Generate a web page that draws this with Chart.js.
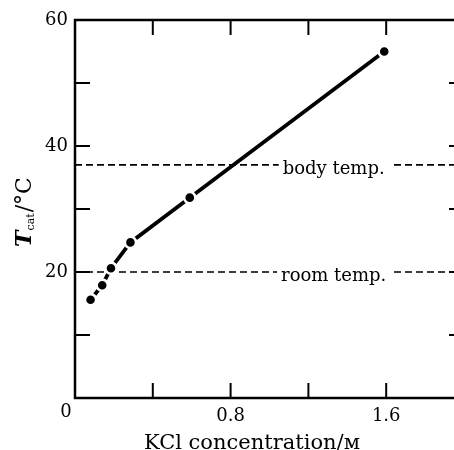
<!DOCTYPE html>
<html>
<head>
<meta charset="utf-8">
<style>
  html, body { margin: 0; padding: 0; background: #fff; overflow: hidden; width: 454px; height: 450px; }
  canvas { display: block; }
</style>
<script src="https://cdn.jsdelivr.net/npm/chart.js@4.4.1/dist/chart.umd.min.js"></script>
</head>
<body>
<canvas id="c" width="480" height="450"></canvas>
<script>
// KCl concentration (M) and catalytic temperature T_cat (°C)
const kclConc = [0.08, 0.14, 0.185, 0.285, 0.59, 1.59];
const tCat = [15.6, 17.9, 20.6, 24.7, 31.8, 55.0];

// horizontal reference temperatures
const refLevels = [37, 20];
const refLabels = ['body temp.', 'room temp.'];

// labelled ticks and axis titles
const xTickLabels = ['0.8', '1.6'];
const yTickLabels = ['20', '40', '60'];
const cornerLabel = '0';
const xTitle = 'KCl concentration/ᴍ';

const SERIF = '"DejaVu Serif", "Liberation Serif", serif';
const INK = '#000';

Chart.defaults.font.family = SERIF;
Chart.defaults.font.size = 18;
Chart.defaults.color = INK;

const points = kclConc.map((x, i) => ({ x, y: tCat[i] }));

const refDatasets = refLevels.map((lvl, i) => ({
  label: refLabels[i],
  data: [{ x: 0, y: lvl }, { x: 2, y: lvl }],
  showLine: true,
  borderColor: INK,
  borderWidth: 1.6,
  borderDash: [7, 4],
  pointRadius: 0,
  order: 2
}));

// Frame round the plot area with inward tick marks on all four sides,
// the shared "0" at the origin, the reference labels and both titles.
const decorPlugin = {
  id: 'decor',
  beforeDatasetsDraw(chart) {
    const { ctx, chartArea: a, scales: { x, y } } = chart;
    ctx.save();
    ctx.strokeStyle = INK;
    ctx.lineWidth = 2.5;
    ctx.strokeRect(a.left, a.top, a.right - a.left, a.bottom - a.top);
    ctx.lineWidth = 2;
    const len = 15;
    ctx.beginPath();
    x.ticks.forEach(t => {
      const px = x.getPixelForValue(t.value);
      if (px <= a.left + 1 || px >= a.right - 1) return;
      ctx.moveTo(px, a.bottom); ctx.lineTo(px, a.bottom - len);
      ctx.moveTo(px, a.top); ctx.lineTo(px, a.top + len);
    });
    y.ticks.forEach(t => {
      const py = y.getPixelForValue(t.value);
      if (py <= a.top + 1 || py >= a.bottom - 1) return;
      ctx.moveTo(a.left, py); ctx.lineTo(a.left + len, py);
      ctx.moveTo(a.right, py); ctx.lineTo(a.right - len, py);
    });
    ctx.stroke();
    ctx.restore();
  },
  afterDatasetsDraw(chart) {
    const { ctx, scales: { x, y } } = chart;
    ctx.save();
    // reference labels sitting on a white patch over the dashed lines
    ctx.font = '18px ' + SERIF;
    ctx.textAlign = 'center';
    ctx.textBaseline = 'alphabetic';
    const cx = x.getPixelForValue(1.33);
    refLevels.forEach((lvl, i) => {
      const py = y.getPixelForValue(lvl);
      const w = ctx.measureText(refLabels[i]).width;
      ctx.fillStyle = '#fff';
      ctx.fillRect(cx - w / 2 - 4, py - 4, w + 11, 8);
      ctx.fillStyle = INK;
      ctx.fillText(refLabels[i], cx, py + 9);
    });
    ctx.restore();
  },
  afterDraw(chart) {
    const { ctx, scales: { x, y } } = chart;
    ctx.save();
    ctx.fillStyle = INK;
    // origin label shared by both axes
    ctx.font = '18px ' + SERIF;
    ctx.textAlign = 'center';
    ctx.textBaseline = 'middle';
    ctx.fillText(cornerLabel, x.getPixelForValue(0) - 9, y.getPixelForValue(0) + 14);

    // x title
    ctx.font = '21px ' + SERIF;
    ctx.textBaseline = 'alphabetic';
    ctx.fillText(xTitle, x.getPixelForValue(0.91), 449);

    // rotated y title: T (italic) with subscript "cat", then /°C
    const main = '22px ' + SERIF;
    const tFont = 'italic bold 22px ' + SERIF;
    const subFont = '11px ' + SERIF;
    ctx.font = tFont; const wT = ctx.measureText('T').width;
    ctx.font = subFont; const wS = ctx.measureText('cat').width;
    ctx.font = main; const wR = ctx.measureText('/°C').width;
    const W = wT + wS + 1 + wR;
    ctx.translate(31, 212);
    ctx.rotate(-Math.PI / 2);
    ctx.textAlign = 'left';
    let px = -W / 2;
    ctx.font = tFont; ctx.fillText('T', px, 0); px += wT;
    ctx.font = subFont; ctx.fillText('cat', px, 3); px += wS + 1;
    ctx.font = main; ctx.fillText('/°C', px, 0);
    ctx.restore();
  }
};

new Chart(document.getElementById('c'), {
  type: 'scatter',
  data: {
    datasets: [
      {
        label: 'T_cat',
        data: points,
        showLine: true,
        borderColor: INK,
        borderWidth: 3.8,
        pointRadius: 5.6,
        pointBackgroundColor: INK,
        pointBorderColor: '#fff',
        pointBorderWidth: 2.6,
        order: 1
      },
      ...refDatasets
    ]
  },
  options: {
    responsive: false,
    animation: false,
    events: [],
    layout: { padding: { left: 0, top: 20, right: 16, bottom: 0 } },
    plugins: { legend: { display: false }, tooltip: { enabled: false } },
    scales: {
      x: {
        type: 'linear',
        min: 0, max: 2,
        afterFit: s => { s.height = 52; },
        grid: { display: false, drawTicks: false },
        border: { display: false },
        ticks: {
          stepSize: 0.4,
          padding: 8,
          maxRotation: 0,
          autoSkip: false,
          callback: v => {
            const s = String(Math.round(v * 10) / 10);
            return xTickLabels.includes(s) ? s : '';
          }
        },
        title: { display: false }
      },
      y: {
        type: 'linear',
        min: 0, max: 60,
        afterFit: s => { s.width = 75; },
        grid: { display: false, drawTicks: false },
        border: { display: false },
        ticks: {
          stepSize: 10,
          padding: 7,
          autoSkip: false,
          callback: v => {
            const s = String(Math.round(v));
            return yTickLabels.includes(s) ? s : '';
          }
        }
      }
    }
  },
  plugins: [decorPlugin]
});
</script>
</body>
</html>
